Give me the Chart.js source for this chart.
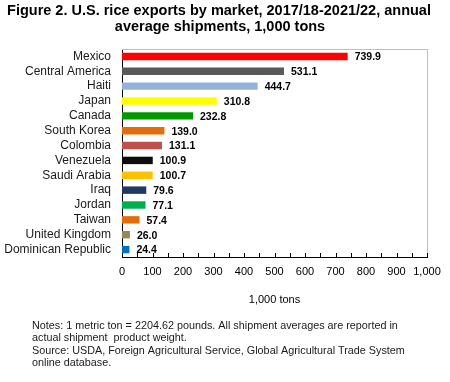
<!DOCTYPE html>
<html>
<head>
<meta charset="utf-8">
<script src="https://cdn.jsdelivr.net/npm/chart.js@4.4.0/dist/chart.umd.min.js"></script>
<style>
  html, body { margin: 0; padding: 0; background: #fff; }
  #wrap { width: 450px; height: 382px; }
</style>
</head>
<body>
<div id="wrap"><canvas id="chart" width="450" height="382"></canvas></div>
<script>
'use strict';

// values, 1,000 tons
let markets = ['Mexico', 'Central America', 'Haiti', 'Japan', 'Canada', 'South Korea', 'Colombia',
  'Venezuela', 'Saudi Arabia', 'Iraq', 'Jordan', 'Taiwan', 'United Kingdom', 'Dominican Republic'];
let shipments = [739.9, 531.1, 444.7, 310.8, 232.8, 139.0, 131.1, 100.9, 100.7, 79.6, 77.1, 57.4, 26.0, 24.4];
let barColors = ['#ff0000', '#595959', '#95b3d7', '#ffff00', '#009a00', '#e46c0a', '#c0504d',
  '#0d0d0d', '#ffc000', '#1f3864', '#00b050', '#e46c0a', '#948a54', '#0070c0'];

let titleLines = ['Figure 2. U.S. rice exports by market, 2017/18-2021/22, annual',
  'average shipments, 1,000 tons'];
let noteLines = ['Notes: 1 metric ton = 2204.62 pounds. All shipment averages are reported in',
  'actual shipment  product weight.',
  'Source: USDA, Foreign Agricultural Service, Global Agricultural Trade System',
  'online database.'];

let FONT = '"Liberation Sans", Arial, sans-serif';

// title, notes, plot frame, inside ticks and the value labels
let extras = {
  id: 'extras',
  beforeDatasetsDraw(chart) {
    let ctx = chart.ctx;
    let a = chart.chartArea;
    ctx.save();
    ctx.strokeStyle = '#bfbfbf';
    ctx.lineWidth = 1;
    ctx.beginPath();
    ctx.moveTo(a.left, a.top + 0.5);
    ctx.lineTo(a.right + 0.5, a.top + 0.5);
    ctx.lineTo(a.right + 0.5, a.bottom);
    ctx.stroke();
    ctx.restore();
  },
  afterDraw(chart) {
    let ctx = chart.ctx;
    let a = chart.chartArea;
    let xs = chart.scales.x;
    ctx.save();

    // inside tick marks every 50
    ctx.strokeStyle = '#000';
    ctx.lineWidth = 1;
    ctx.beginPath();
    for (let v = 50; v <= 1000; v += 50) {
      let px = Math.round(xs.getPixelForValue(v)) + 0.5;
      ctx.moveTo(px, a.bottom);
      ctx.lineTo(px, a.bottom - 4);
    }
    ctx.stroke();

    // value labels
    let meta = chart.getDatasetMeta(0);
    ctx.fillStyle = '#000';
    ctx.font = 'bold 10.5px ' + FONT;
    ctx.textBaseline = 'middle';
    ctx.textAlign = 'left';
    meta.data.forEach((bar, i) => {
      ctx.fillText(shipments[i].toFixed(1), bar.x + 7, bar.y + 1);
    });

    // title
    ctx.textBaseline = 'alphabetic';
    ctx.fillStyle = '#000';
    ctx.font = 'bold 14.5px ' + FONT;
    ctx.textAlign = 'center';
    ctx.fillText(titleLines[0], 219, 15);
    ctx.fillText(titleLines[1], 220, 31);

    // notes
    ctx.fillStyle = '#1a1a1a';
    ctx.font = '10.8px ' + FONT;
    ctx.textAlign = 'left';
    noteLines.forEach((line, i) => {
      ctx.fillText(line, 32, 329 + i * 12.4);
    });
    ctx.restore();
  }
};

let canvasElem = document.getElementById('chart');

let chartObj = {
  type: 'bar',
  data: {
    labels: markets,
    datasets: [{
      data: shipments,
      backgroundColor: barColors,
      borderWidth: 0,
      categoryPercentage: 1,
      barPercentage: 0.5
    }]
  },
  options: {
    indexAxis: 'y',
    responsive: false,
    animation: false,
    layout: {
      padding: { top: 49, left: 2, right: 23, bottom: 75 }
    },
    plugins: {
      legend: { display: false },
      tooltip: { enabled: false }
    },
    scales: {
      x: {
        min: 0,
        max: 1000,
        ticks: {
          stepSize: 100,
          color: '#000',
          padding: 8,
          maxRotation: 0,
          minRotation: 0,
          autoSkip: false,
          font: { family: FONT, size: 11 }
        },
        grid: { display: false, drawTicks: false },
        border: { display: true, color: '#000', width: 1 },
        title: {
          display: true,
          text: '1,000 tons',
          color: '#000',
          font: { family: FONT, size: 11 },
          padding: { top: 10, bottom: 0 }
        },
        afterFit(scale) { scale.height = 50; }
      },
      y: {
        ticks: {
          color: '#1a1a1a',
          padding: 11,
          autoSkip: false,
          font: { family: FONT, size: 12 }
        },
        grid: { display: false, drawTicks: false },
        border: { display: true, color: '#000', width: 1 },
        afterFit(scale) { scale.width = 120; }
      }
    }
  },
  plugins: [extras]
};

new Chart(canvasElem, chartObj);
</script>
</body>
</html>
